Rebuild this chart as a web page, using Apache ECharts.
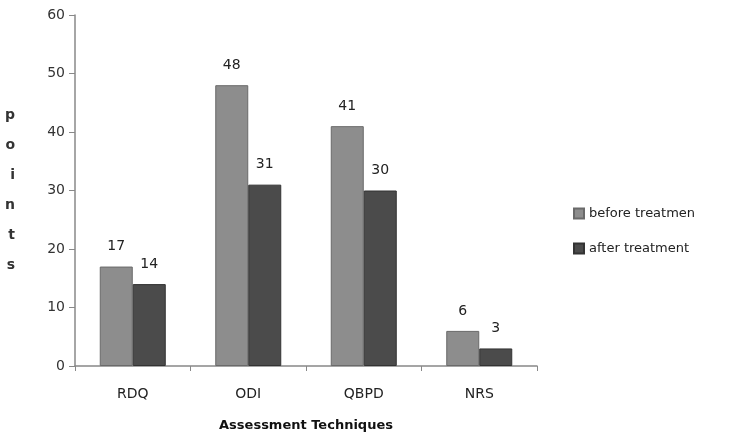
<!DOCTYPE html>
<html><head><meta charset="utf-8">
<script src="https://cdn.jsdelivr.net/npm/echarts@6/dist/echarts.min.js"></script>
<style>html,body{margin:0;padding:0;background:#fff}#c{width:739px;height:437px}</style>
</head><body><div id="c"></div>
<script>
const categories = ['RDQ', 'ODI', 'QBPD', 'NRS'];
const beforeValues = [17, 48, 41, 6];
const afterValues = [14, 31, 30, 3];
const seriesNames = ['before treatmen', 'after treatment'];
const yTicks = {min: 0, max: 60, interval: 10};

const chart = echarts.init(document.getElementById('c'));
const font = 'Verdana, "DejaVu Sans", sans-serif';
chart.setOption({
  animation: false,
  textStyle: {fontFamily: font},
  grid: {left: 75, right: 202, top: 15, bottom: 71, containLabel: false},
  legend: {
    orient: 'vertical', left: 568, top: 202, itemGap: 22,
    itemWidth: 10, itemHeight: 10, icon: 'rect',
    textStyle: {fontSize: 13, color: '#222', fontFamily: font}
  },
  xAxis: {
    type: 'category', data: categories,
    axisLine: {lineStyle: {color: '#888', width: 1.5}},
    axisTick: {show: true, length: 5, lineStyle: {color: '#888'}},
    axisLabel: {fontSize: 14, color: '#222', margin: 21},
    name: 'Assessment Techniques', nameLocation: 'middle', nameGap: 53,
    nameTextStyle: {fontSize: 13, fontWeight: 'bold', color: '#111'}
  },
  yAxis: {
    type: 'value', min: yTicks.min, max: yTicks.max, interval: yTicks.interval,
    splitLine: {show: false},
    axisLine: {show: true, lineStyle: {color: '#888', width: 1.5}},
    axisTick: {show: true, length: 6, lineStyle: {color: '#888'}},
    axisLabel: {fontSize: 14, color: '#333', margin: 10},
    name: 'p\no\ni\nn\nt\ns', nameLocation: 'middle', nameGap: 60, nameRotate: 0,
    nameTextStyle: {fontSize: 14, fontWeight: 'bold', color: '#333', lineHeight: 30}
  },
  series: [
    {name: seriesNames[0], type: 'bar', data: beforeValues, barWidth: 33, barGap: '0%',
     itemStyle: {color: '#8d8d8d', borderColor: '#6a6a6a', borderWidth: 1},
     label: {show: true, position: 'top', fontSize: 14, color: '#222', distance: 13}},
    {name: seriesNames[1], type: 'bar', data: afterValues, barWidth: 33,
     itemStyle: {color: '#4b4b4b', borderColor: '#333', borderWidth: 1},
     label: {show: true, position: 'top', fontSize: 14, color: '#222', distance: 13}}
  ]
});
</script></body></html>
